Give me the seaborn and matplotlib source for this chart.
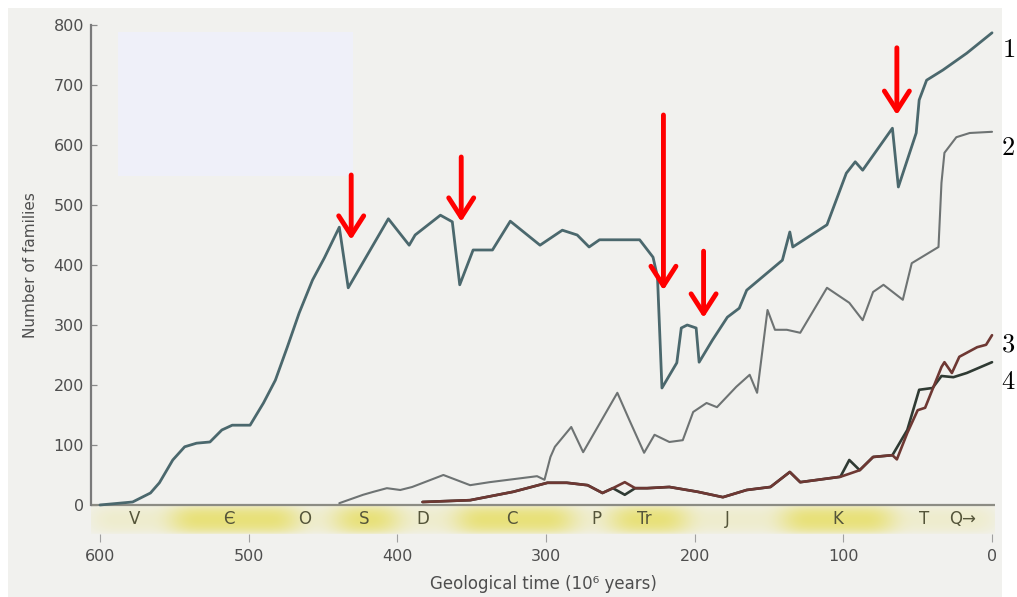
import numpy as np
import matplotlib
matplotlib.use("Agg")
import matplotlib.pyplot as plt
from matplotlib.patches import Rectangle
import seaborn as sns

# %% data (time in Myr before present, number of families)
t1 = [600, 578, 566, 560, 551, 543, 535, 526, 518, 511, 499, 490, 482, 474, 466, 457, 449, 439,
      433, 406, 392, 388, 371, 363, 358, 349, 336, 324, 304, 289, 279, 271, 264, 237, 228, 225,
      222, 212, 209, 205, 199, 197, 188, 178, 170, 165, 141, 136, 134, 111, 98, 92, 87, 67, 63,
      51, 49, 44, 33, 17, 0]
v1 = [0, 5, 20, 37, 75, 97, 103, 105, 125, 133, 133, 170, 208, 263, 320, 375, 412, 463,
      362, 477, 433, 450, 483, 472, 367, 425, 425, 473, 433, 458, 450, 430, 442, 442, 413, 380,
      195, 237, 295, 300, 295, 238, 275, 313, 328, 358, 408, 455, 430, 467, 553, 572, 558, 628, 530,
      620, 675, 708, 725, 753, 787]

t2 = [439, 423, 416, 407, 398, 390, 369, 351, 338, 306, 301, 297, 294, 283, 275, 252, 244, 234,
      227, 217, 208, 201, 192, 185, 172, 163, 158, 151, 146, 138, 129, 111, 96, 87, 80, 73, 60,
      54, 36, 34, 32, 24, 15, 0]
v2 = [3, 17, 22, 28, 25, 30, 50, 33, 38, 48, 42, 80, 97, 130, 88, 187, 142, 87,
      117, 105, 108, 155, 170, 163, 197, 217, 187, 325, 292, 292, 287, 362, 337, 308, 355, 367, 342,
      403, 430, 537, 587, 613, 620, 622]

t3 = [383, 351, 322, 299, 286, 272, 262, 255, 247, 240, 232, 217, 198, 181, 165, 149, 136, 129,
      102, 96, 89, 80, 67, 64, 57, 50, 45, 34, 32, 27, 22, 10, 4, 0]
v3 = [5, 8, 22, 37, 37, 33, 20, 28, 38, 28, 28, 30, 22, 13, 25, 30, 55, 38,
      47, 52, 58, 80, 83, 76, 120, 158, 162, 230, 238, 220, 247, 263, 267, 283]

t4 = [383, 351, 322, 299, 286, 272, 262, 255, 247, 240, 232, 217, 198, 181, 165, 149, 136, 129,
      102, 96, 89, 80, 67, 57, 49, 40, 34, 26, 17, 0]
v4 = [5, 8, 22, 37, 37, 33, 20, 28, 17, 28, 28, 30, 22, 13, 25, 30, 55, 38,
      47, 75, 58, 80, 83, 125, 192, 195, 215, 213, 220, 238]

curve_names = ["1", "2", "3", "4"]
curve_end_labels_y = [758, 595, 267, 205]

# geological periods: label and where the label sits on the time axis
period_labels = ["V", "Є", "O", "S", "D", "C", "P", "Tr", "J", "K", "T", "Q→"]
period_pos = [577, 513, 462, 422, 383, 323, 266, 234, 178, 104, 46, 20]
# spans that are shaded strong yellow
strong_start = [550, 439, 358, 254, 139]
strong_end = [469, 402, 284, 207, 69]

# red arrows marking the mass extinctions
arrow_t = [431, 357, 221, 194, 64]
arrow_top = [550, 580, 650, 423, 762]
arrow_tip = [442, 472, 358, 312, 650]

x_ticks = [600, 500, 400, 300, 200, 100, 0]
y_ticks = [0, 100, 200, 300, 400, 500, 600, 700, 800]

# %% plot
sns.set_style("ticks")
plt.rcParams["font.family"] = ["DejaVu Sans"]
plt.rcParams["mathtext.fontset"] = "cm"

W, H = 1017, 597
fig = plt.figure(figsize=(W / 100, H / 100), dpi=100)
fig.patch.set_facecolor("white")
fig.patches.append(Rectangle((8 / W, 0), (1002 - 8) / W, (H - 8) / H, transform=fig.transFigure,
                             facecolor="#f1f1ee", edgecolor="none", zorder=-10))
fig.patches.append(Rectangle((118 / W, 1 - 176 / H), 235 / W, 144 / H, transform=fig.transFigure,
                             facecolor="#eff0f9", edgecolor="none", zorder=-9))

ax = fig.add_axes([91 / W, 1 - 542 / H, (995 - 91) / W, (542 - 25) / H])
ax.set_facecolor("none")
ax.set_xlim(606, -2)
ax.set_ylim(-61.7, 800)

# yellow period band under the baseline
band_x = np.linspace(606, -2, 900)
col = np.full(band_x.size, 0.2)
for a, b in zip(strong_start, strong_end):
    col[(band_x <= a) & (band_x >= b)] = 0.72
win = np.hanning(61)
col = np.convolve(col, win / win.sum(), mode="same")
rows = np.sin(np.linspace(0.1, np.pi - 0.1, 30)) ** 0.5
img = np.zeros((rows.size, band_x.size, 4))
img[..., 0], img[..., 1], img[..., 2] = 0.90, 0.86, 0.30
img[..., 3] = rows[:, None] * col[None, :]
ax.imshow(img, extent=(606, -2, -48, 0), aspect="auto", zorder=0, interpolation="bilinear")

for lab, p in zip(period_labels, period_pos):
    ax.text(p, -23, lab, ha="center", va="center", fontsize=12, color="#55553a", zorder=2)

ax.axhline(0, color="#8c8c84", lw=1.6, zorder=1)

sns.lineplot(x=t2, y=v2, sort=False, estimator=None, color="#6e7373", lw=1.5, ax=ax, zorder=3)
sns.lineplot(x=t4, y=v4, sort=False, estimator=None, color="#2f3a33", lw=1.9, ax=ax, zorder=4)
sns.lineplot(x=t3, y=v3, sort=False, estimator=None, color="#6e3833", lw=1.9, ax=ax, zorder=4)
sns.lineplot(x=t1, y=v1, sort=False, estimator=None, color="#4b686d", lw=2.0, ax=ax, zorder=5)

for t, a, b in zip(arrow_t, arrow_top, arrow_tip):
    ax.annotate("", xy=(t, b), xytext=(t, a), zorder=6,
                arrowprops=dict(arrowstyle="->,head_length=1.4,head_width=0.9", color="#ff0000",
                                lw=3.5, mutation_scale=10, shrinkA=0, shrinkB=0))

for name, yv in zip(curve_names, curve_end_labels_y):
    ax.text(1.0145, yv, "$" + name + "$", transform=ax.get_yaxis_transform(), fontsize=19,
            color="black", ha="center", va="center", clip_on=False)

# axes styling
for side in ["top", "right", "bottom"]:
    ax.spines[side].set_visible(False)
ax.spines["left"].set_bounds(0, 800)
ax.spines["left"].set_color("#7a7a7a")
ax.spines["left"].set_linewidth(1.6)
ax.set_yticks(y_ticks)
ax.set_xticks(x_ticks)
ax.tick_params(axis="y", direction="in", length=4, width=0.9, color="#8a8a8a",
               labelsize=11.5, labelcolor="#4e4e4e", pad=5)
ax.tick_params(axis="x", direction="in", length=6, width=0.8, color="#a0a0a0",
               labelsize=11.5, labelcolor="#4e4e4e", pad=5)
ax.set_ylabel("Number of families", fontsize=11, color="#4e4e4e")
ax.yaxis.set_label_coords(-0.0586, 0.536)
ax.set_xlabel("Geological time (10⁶ years)", fontsize=12, color="#4e4e4e")
ax.xaxis.set_label_coords(0.5, -0.064)

fig.savefig("out.png", dpi=100)
